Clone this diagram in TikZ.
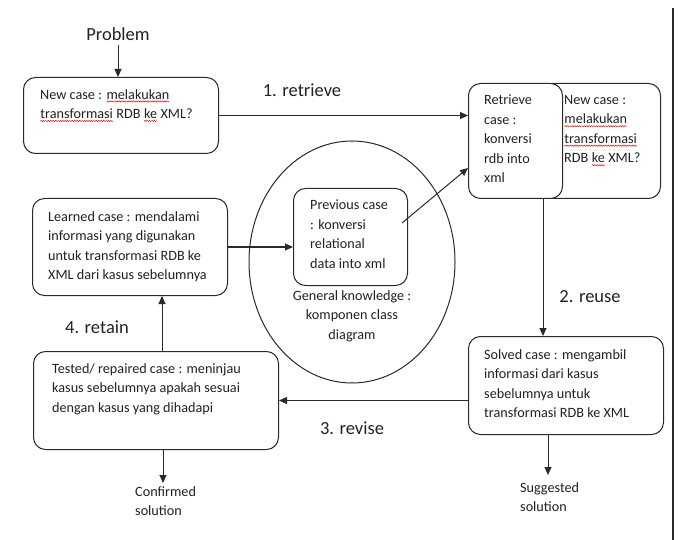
\documentclass[tikz,border=0pt]{standalone}
\usepackage{fontspec}
\setmainfont{Carlito}
\usetikzlibrary{arrows.meta,decorations.pathmorphing,shapes.geometric}
\definecolor{ln}{HTML}{2A2A2A}
\definecolor{tx}{HTML}{222222}
\newcommand\fs{\fontsize{14.2}{19.5}\selectfont}
\newcommand\fl{\fontsize{18.5}{22}\selectfont}
\newcommand\squig[1]{\tikz[baseline=(sqw.base)]{\node[inner sep=0pt,outer sep=0pt,anchor=base west](sqw) at (0,0){#1};\draw[red,line width=0.5pt,decorate,decoration={snake,amplitude=0.6pt,segment length=2.4pt}]([yshift=-2.4pt]sqw.base west)--([yshift=-2.4pt]sqw.base east);}}
\begin{document}
\begin{tikzpicture}[x=1pt,y=-1pt,
  box/.style={draw=ln,line width=1pt,rounded corners=12pt,fill=white,inner sep=0pt,anchor=north west},
  txt/.style={align=left,inner sep=0pt,anchor=north west,font=\fs,text=tx},
  ctxt/.style={align=center,inner sep=0pt,font=\fs,text=tx},
  lbl/.style={inner sep=0pt,font=\fl,text=tx},
  arr/.style={draw=ln,line width=1pt,-{Triangle[length=8pt,width=7pt]}}]
\useasboundingbox (0,0) rectangle (680,540);
\fill[white] (0,0) rectangle (680,540);
\draw[ln,line width=1.3pt] (673,8) -- (673,540);

% labels
\node[lbl] (problem) at (118,34) {Problem};
\node[lbl] (l1) at (302,90) {1. retrieve};
\node[lbl] (l2) at (590,297) {2. reuse};
\node[lbl] (l3) at (352,428) {3. revise};
\node[lbl] (l4) at (97,327) {4. retain};

% new case
\node[box,minimum width=195pt,minimum height=76pt] (new) at (23,77) {};
\node[txt] (newt) at (40,89) {New case : \squig{melakukan}\\\squig{transformasi} RDB \squig{ke} XML?};

% retrieve + new case (right)
\node[box,minimum width=120pt,minimum height=115pt] (newr) at (540,83) {};
\node[box,minimum width=94pt,minimum height=115pt] (ret) at (468,83) {};
\node[txt] (rett) at (484,95) {Retrieve\\case :\\konversi\\rdb into\\xml};
\node[txt] (newrt) at (564,95) {New case :\\\squig{melakukan}\\\squig{transformasi}\\RDB \squig{ke} XML?};

% general knowledge ellipse
\node[draw=ln,line width=1pt,ellipse,inner sep=0pt,minimum width=206pt,minimum height=242pt] (gk) at (352,262) {};
\node[box,minimum width=114pt,minimum height=97pt] (prev) at (293,188) {};
\node[txt] (prevt) at (310,200) {Previous case\\: konversi\\relational\\data into xml};
\node[ctxt] (gkt) at (352,316) {General knowledge :\\komponen class\\diagram};

% learned
\node[box,minimum width=195pt,minimum height=97pt] (lrn) at (32,198) {};
\node[txt] (lrnt) at (48,211) {Learned case : mendalami\\informasi yang digunakan\\untuk transformasi RDB ke\\XML dari kasus sebelumnya};

% tested
\node[box,minimum width=245pt,minimum height=98pt] (tst) at (33,351) {};
\node[txt] (tstt) at (52,363) {Tested/ repaired case : meninjau\\kasus sebelumnya apakah sesuai\\dengan kasus yang dihadapi};

% solved
\node[box,minimum width=195pt,minimum height=98pt] (sol) at (468,336) {};
\node[txt] (solt) at (484,349) {Solved case : mengambil\\informasi dari kasus\\sebelumnya untuk\\transformasi RDB ke XML};

% outputs
\node[txt] (conf) at (135,486) {Confirmed\\solution};
\node[txt] (sugg) at (520,482) {Suggested\\solution};

% connectors
\coordinate (pin) at (118,45);
\draw[arr] (pin) -- (pin |- new.north);
\draw[arr] (new.east) -- (ret.west |- new.east);
\coordinate (pout) at (402,223);
\coordinate (rin) at (468,168);
\draw[arr] (pout) -- (rin);
\coordinate (rbot) at (543,198);
\draw[arr] (rbot) -- (rbot |- sol.north);
\draw[arr] (sol.west |- tst.east) -- (tst.east);
\coordinate (ttop) at (162,351);
\draw[arr] (ttop) -- (ttop |- lrn.south);
\draw[arr] (lrn.east) -- (prev.west |- lrn.east);
\coordinate (tbot) at (163,449);
\draw[arr] (tbot) -- (163,483);
\coordinate (sbot) at (548,434);
\draw[arr] (sbot) -- (548,475);
\end{tikzpicture}
\end{document}
